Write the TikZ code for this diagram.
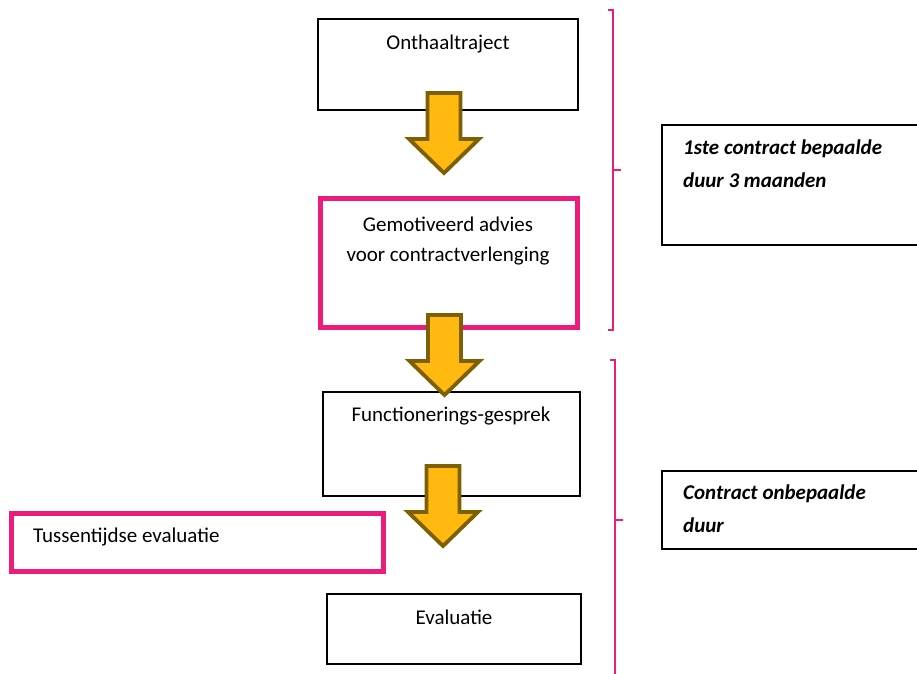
\documentclass[tikz,border=0pt]{standalone}
\usepackage{fontspec}
\setmainfont{Carlito}
\usetikzlibrary{positioning,calc}

\definecolor{roze}{RGB}{236,28,124}
\definecolor{oranje}{RGB}{255,185,15}
\definecolor{bruin}{RGB}{127,96,0}

% blokpijl naar beneden: x midden, y boven
\newcommand{\blokpijl}[3]{%
  \draw[pijl] (#2-16.5,#3) -- (#2+16.5,#3) -- (#2+16.5,#3+46) -- (#2+35,#3+46)
    -- (#2,#3+80) -- (#2-35,#3+46) -- (#2-16.5,#3+46) -- cycle;
  \coordinate (#1) at (#2,#3+80);}

\begin{document}
\begin{tikzpicture}[x=1pt, y=-1pt,
    box/.style={draw, line width=1.5pt, inner sep=0pt, outer sep=0pt},
    rozebox/.style={draw=roze, line width=5pt, inner sep=0pt, outer sep=0pt},
    lbl/.style={font=\fontsize{21}{30}\selectfont, align=center, inner sep=0pt},
    zijlbl/.style={font=\fontsize{21}{33}\selectfont\bfseries\itshape, align=left, anchor=west, inner sep=0pt},
    pijl/.style={draw=bruin, fill=oranje, line width=3.8pt, miter limit=20},
    haak/.style={draw=roze, line width=2pt}
]
\useasboundingbox (0,0) rectangle (917,673);
\clip (0,0) rectangle (917,673);

% linkerkolom
\node[box, minimum width=260pt, minimum height=91pt] (onthaal) at (448,64.5) {};
\node[lbl] (onthaaltxt) at (448,44) {Onthaaltraject};

\node[rozebox, minimum width=257pt, minimum height=129pt] (advies) at (448.5,262.5) {};
\node[lbl] (adviestxt) at (448,241) {Gemotiveerd advies\\voor contractverlenging};

\node[box, minimum width=257pt, minimum height=104pt] (functie) at (451.5,444) {};
\node[lbl] (functietxt) at (451,416) {Functionerings-gesprek};

\node[rozebox, minimum width=372pt, minimum height=58pt] (tussen) at (197,542) {};
\node[lbl, anchor=west] (tussentxt) at (33,537) {Tussentijdse evaluatie};

\node[box, minimum width=254pt, minimum height=70pt] (evaluatie) at (454,629) {};
\node[lbl] (evaluatietxt) at (454,617) {Evaluatie};

% rechterkolom
\node[box, minimum width=273pt, minimum height=120pt] (contract1) at (798.5,185) {};
\node[zijlbl] (contract1txt) at (683,164) {1ste contract bepaalde\\duur 3 maanden};

\node[box, minimum width=273pt, minimum height=78pt] (contract2) at (798.5,510) {};
\node[zijlbl] (contract2txt) at (683,509) {Contract onbepaalde\\duur};

% accolades
\coordinate (haak1) at (621,170);
\coordinate (haak2) at (623,520);
\draw[haak] (608,10) -| (613,170) -- (haak1);
\draw[haak] (613,170) |- (608,330);
\draw[haak] (610,360) -| (615,520) -- (haak2);
\draw[haak] (615,520) -- (615,680);

% pijlen
\blokpijl{p1}{444}{93}
\blokpijl{p2}{444.5}{315}
\blokpijl{p3}{443}{466}
\end{tikzpicture}
\end{document}
